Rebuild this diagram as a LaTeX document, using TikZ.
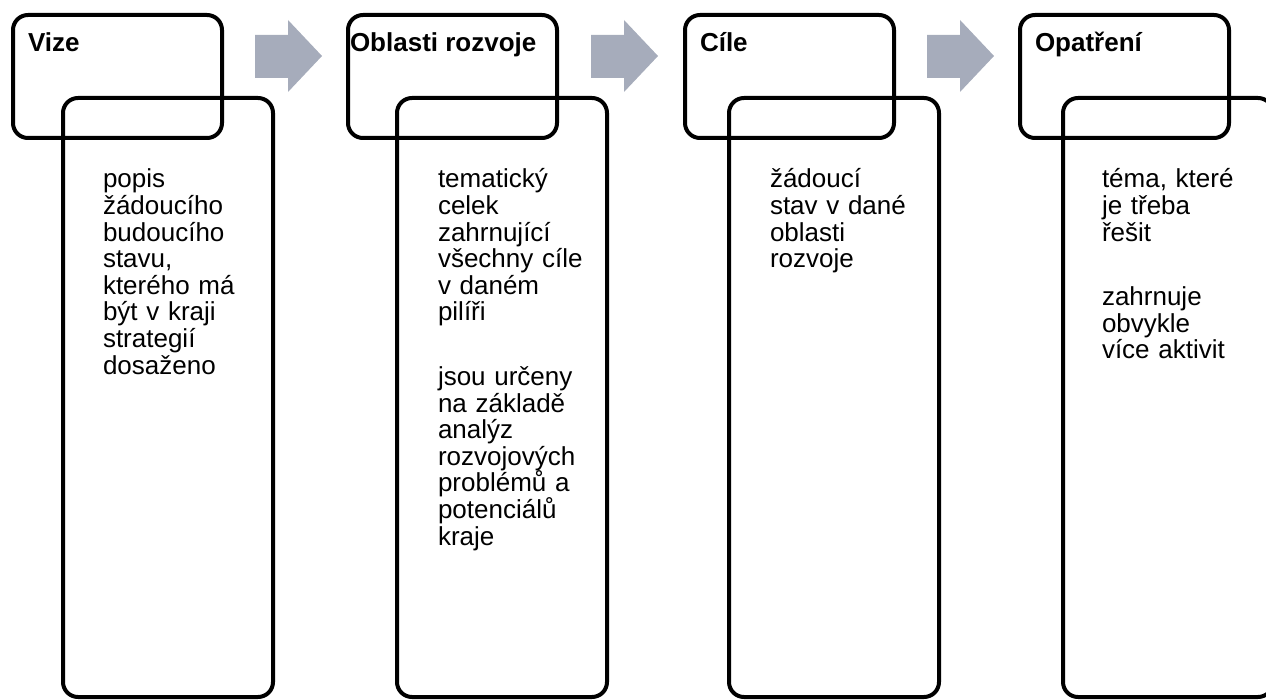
\documentclass[tikz,border=0pt]{standalone}
\usepackage{fontspec}
\setmainfont{Liberation Sans}
\usetikzlibrary{positioning}
\definecolor{arrowgrey}{RGB}{166,172,187}

\begin{document}
\begin{tikzpicture}[x=1pt,y=-1pt,line width=4pt,every node/.style={inner sep=0pt,outer sep=0pt}]
      \tikzstyle{headbox}=[draw=black,rounded corners=15pt,anchor=north west,minimum width=209pt,minimum height=123pt]
      \tikzstyle{bodybox}=[draw=black,rounded corners=15pt,anchor=north west,minimum width=210pt,minimum height=599pt]
      \tikzstyle{title}=[anchor=base west,font=\fontsize{26}{26.6}\selectfont\bfseries]
      \tikzstyle{desc}=[anchor=base west,align=left,text width=190pt,font=\fontsize{26}{26.6}\selectfont]

      \path[use as bounding box] (0,0) rectangle (1266,700);
      \clip (0,0) rectangle (1266,700);

      % block arrows between the columns
      \foreach \x in {255,591,927}
        \fill[arrowgrey] (\x,35) -- ++(33,0) -- ++(0,-15) -- ++(34,36) -- ++(-34,36) -- ++(0,-14) -- ++(-33,0) -- cycle;

      \node[headbox]	(vizeHead)	at (13,15)	{};
      \node[headbox]	(oblHead)	at (348,15)	{};
      \node[headbox]	(cileHead)	at (685,15)	{};
      \node[headbox]	(opHead)	at (1020,15)	{};

      \node[bodybox]	(vizeBody)	at (63,98)	{};
      \node[bodybox]	(oblBody)	at (397,98)	{};
      \node[bodybox]	(cileBody)	at (729,98)	{};
      \node[bodybox]	(opBody)	at (1063,98)	{};

      \node[title]	(vizeTitle)	at (28,52)	{Vize};
      \node[title]	(oblTitle)	at (350,52)	{Oblasti rozvoje};
      \node[title]	(cileTitle)	at (700,52)	{Cíle};
      \node[title]	(opTitle)	at (1035,52)	{Opatření};

      \node[desc]	(vizeText)	at (103,188)	{popis\\ žádoucího\\ budoucího\\ stavu,\\ kterého má\\ být v kraji\\ strategií\\ dosaženo};
      \node[desc]	(oblText)	at (438,188)	{tematický\\ celek\\ zahrnující\\ všechny cíle\\ v daném\\ pilíři\\[38pt] jsou určeny\\ na základě\\ analýz\\ rozvojových\\ problémů a\\ potenciálů\\ kraje};
      \node[desc]	(cileText)	at (770,188)	{žádoucí\\ stav v dané\\ oblasti\\ rozvoje};
      \node[desc]	(opText)	at (1102,188)	{téma, které\\ je třeba\\ řešit\\[38pt] zahrnuje\\ obvykle\\ více aktivit};

  \end{tikzpicture}
\end{document}
